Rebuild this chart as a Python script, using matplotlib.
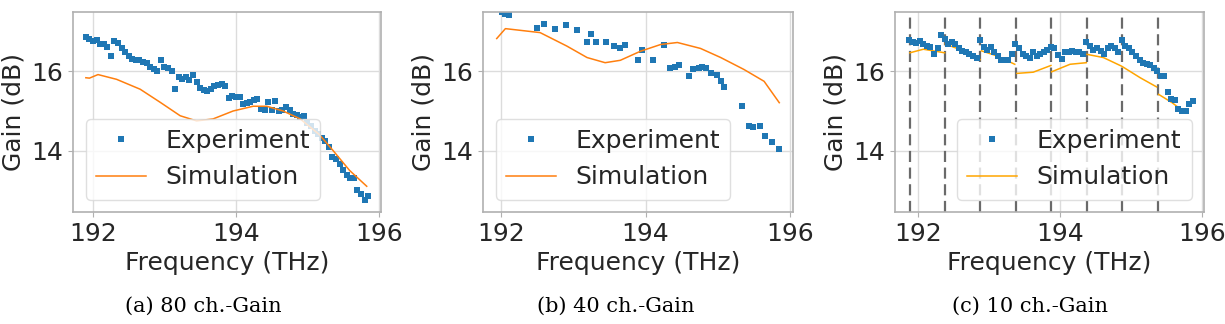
import matplotlib
matplotlib.use('Agg')
import matplotlib.pyplot as plt
import numpy as np

# ---- data ----
# (a) 80 channels, 191.90 .. 195.85 THz, 0.05 THz spacing
freq_a = 191.90 + 0.05 * np.arange(80)
exp_a = [16.88, 16.82, 16.78, 16.80, 16.70, 16.68, 16.62, 16.40, 16.78, 16.72,
         16.58, 16.48, 16.40, 16.32, 16.28, 16.30, 16.25, 16.20, 16.12, 16.05,
         16.00, 16.28, 16.12, 16.08, 16.02, 15.56, 15.85, 15.80, 15.85, 15.78,
         15.92, 15.72, 15.58, 15.52, 15.50, 15.55, 15.62, 15.65, 15.68, 15.62,
         15.32, 15.38, 15.36, 15.35, 15.18, 15.20, 15.22, 15.28, 15.30, 15.05,
         15.02, 15.22, 15.02, 15.25, 15.00, 15.02, 15.10, 15.02, 14.92, 14.90,
         14.85, 14.88, 14.70, 14.62, 14.50, 14.42, 14.32, 14.25, 14.08, 13.85,
         13.78, 13.65, 13.52, 13.38, 13.30, 13.30, 13.00, 12.90, 12.75, 12.85]
sim_fa = [191.90, 191.95, 192.07, 192.33, 192.66, 192.94, 193.22, 193.45, 193.68,
          193.96, 194.24, 194.43, 194.66, 194.90, 195.17, 195.36, 195.59, 195.83]
sim_a = [15.84, 15.83, 15.92, 15.80, 15.55, 15.22, 14.88, 14.75, 14.80,
         15.00, 15.12, 15.12, 15.00, 14.80, 14.40, 14.00, 13.50, 13.10]

# (b) 40 channels
freq_b = [192.01, 192.06, 192.11, 192.50, 192.60, 192.75, 192.90, 193.05, 193.19,
          193.25, 193.31, 193.45, 193.56, 193.65, 193.71, 193.89, 193.95, 194.10,
          194.25, 194.34, 194.41, 194.46, 194.60, 194.66, 194.74, 194.78, 194.83,
          194.90, 194.99, 195.05, 195.09, 195.34, 195.43, 195.49, 195.59, 195.65,
          195.75, 195.85]
exp_b = [17.49, 17.44, 17.42, 17.10, 17.20, 17.08, 17.16, 17.05, 16.75,
         16.95, 16.73, 16.73, 16.64, 16.60, 16.67, 16.29, 16.54, 16.30,
         16.66, 16.08, 16.10, 16.15, 15.88, 16.05, 16.08, 16.12, 16.08,
         15.95, 15.90, 15.75, 15.61, 15.12, 14.62, 14.60, 14.62, 14.38,
         14.21, 14.03]
sim_fb = [191.94, 192.06, 192.54, 192.91, 193.19, 193.44, 193.65, 193.93,
          194.21, 194.44, 194.76, 195.04, 195.36, 195.64, 195.85]
sim_b = [16.83, 17.08, 16.98, 16.64, 16.35, 16.22, 16.28, 16.51,
         16.68, 16.73, 16.58, 16.35, 16.05, 15.75, 15.21]

# (c) 10 channels
freq_c = 191.87 + 0.05 * np.arange(81)
exp_c = [16.80, 16.75, 16.72, 16.78, 16.70, 16.65, 16.62, 16.43, 16.58, 16.93,
         16.82, 16.70, 16.75, 16.68, 16.58, 16.52, 16.50, 16.45, 16.40, 16.35,
         16.80, 16.62, 16.55, 16.62, 16.50, 16.40, 16.30, 16.28, 16.30, 16.45,
         16.68, 16.58, 16.45, 16.38, 16.35, 16.50, 16.40, 16.45, 16.48, 16.55,
         16.62, 16.60, 16.42, 16.32, 16.50, 16.48, 16.52, 16.48, 16.50, 16.45,
         16.75, 16.65, 16.55, 16.58, 16.52, 16.45, 16.60, 16.65, 16.58, 16.50,
         16.80, 16.65, 16.60, 16.50, 16.38, 16.28, 16.22, 16.18, 16.15, 16.08,
         16.02, 15.88, 15.88, 15.48, 15.30, 15.28, 15.05, 15.00, 15.00, 15.18,
         15.25]
# simulation drawn in pieces, one per band between the dashed lines
sim_fc = [[191.88, 192.07, 192.24, 192.37],
          [192.38, 192.64, 192.87],
          [192.89, 193.11, 193.36],
          [193.39, 193.62, 193.87],
          [193.88, 194.14, 194.37],
          [194.38, 194.61, 194.87, 195.13, 195.36],
          [195.39, 195.58, 195.77]]
sim_c = [[16.47, 16.56, 16.51, 16.47],
         [16.69, 16.52, 16.30],
         [16.52, 16.39, 16.18],
         [15.95, 15.98, 16.15],
         [15.99, 16.18, 16.22],
         [16.43, 16.35, 16.13, 15.84, 15.61],
         [15.42, 15.21, 14.95]]
bounds_c = [191.875, 192.375, 192.875, 193.375, 193.875, 194.375, 194.875, 195.375]

captions = ['(a) 80 ch.-Gain', '(b) 40 ch.-Gain', '(c) 10 ch.-Gain']

plt.rcParams['font.family'] = 'DejaVu Sans'
plt.rcParams['font.size'] = 18

fig = plt.figure(figsize=(12.25, 3.24), dpi=100)
lefts = [73, 483, 895]
widths = [308, 310, 309]
xlims = [(191.72, 196.03), (191.75, 196.04), (191.67, 196.03)]
cap_x = [203, 616, 1030]
axes = []
for i in range(3):
    ax = fig.add_axes([lefts[i] / 1225, 112 / 324, widths[i] / 1225, 200 / 324])
    axes.append(ax)

def style(ax, xl, loc):
    ax.set_xlim(*xl)
    ax.set_ylim(12.45, 17.5)
    ax.set_xticks([192, 194, 196])
    ax.set_yticks([14, 16])
    ax.grid(True, color='#dcdcdc', lw=1)
    ax.set_axisbelow(True)
    for s in ax.spines.values():
        s.set_color('#b0b0b0')
        s.set_linewidth(1.2)
    ax.tick_params(colors='#b0b0b0', labelcolor='#262626', labelsize=18)
    ax.set_xlabel('Frequency (THz)', color='#262626')
    ax.set_ylabel('Gain (dB)', color='#262626')
    leg = ax.legend(loc=loc, fontsize=18, numpoints=1, framealpha=0.8)
    leg.get_frame().set_edgecolor('#d8d8d8')
    for t in leg.get_texts():
        t.set_color('#262626')

ax = axes[0]
ax.plot(freq_a, exp_a, 's', ms=5, mew=0, color='#1f77b4', label='Experiment')
ax.plot(sim_fa, sim_a, '-', lw=1.1, color='#ff7f0e', label='Simulation')
style(ax, xlims[0], 'lower left')

ax = axes[1]
ax.plot(freq_b, exp_b, 's', ms=5, mew=0, color='#1f77b4', label='Experiment')
ax.plot(sim_fb, sim_b, '-', lw=1.1, color='#ff7f0e', label='Simulation')
style(ax, xlims[1], 'lower left')

ax = axes[2]
for b in bounds_c:
    ax.axvline(b, color='#6a6a6a', ls='--', lw=1.6, dashes=(5, 2.5), zorder=1)
ax.plot(freq_c, exp_c, 's', ms=5, mew=0, color='#1f77b4', label='Experiment', zorder=3)
for k in range(len(sim_fc)):
    ax.plot(sim_fc[k], sim_c[k], '-', lw=1.1, color='#ffa500', zorder=2,
            label='Simulation' if k == 0 else None)
style(ax, xlims[2], 'lower right')

for i in range(3):
    fig.text(cap_x[i] / 1225, 1 - 306 / 324, captions[i], ha='center', va='center',
             family='DejaVu Serif', fontsize=15)

fig.savefig('out.png', dpi=100)
